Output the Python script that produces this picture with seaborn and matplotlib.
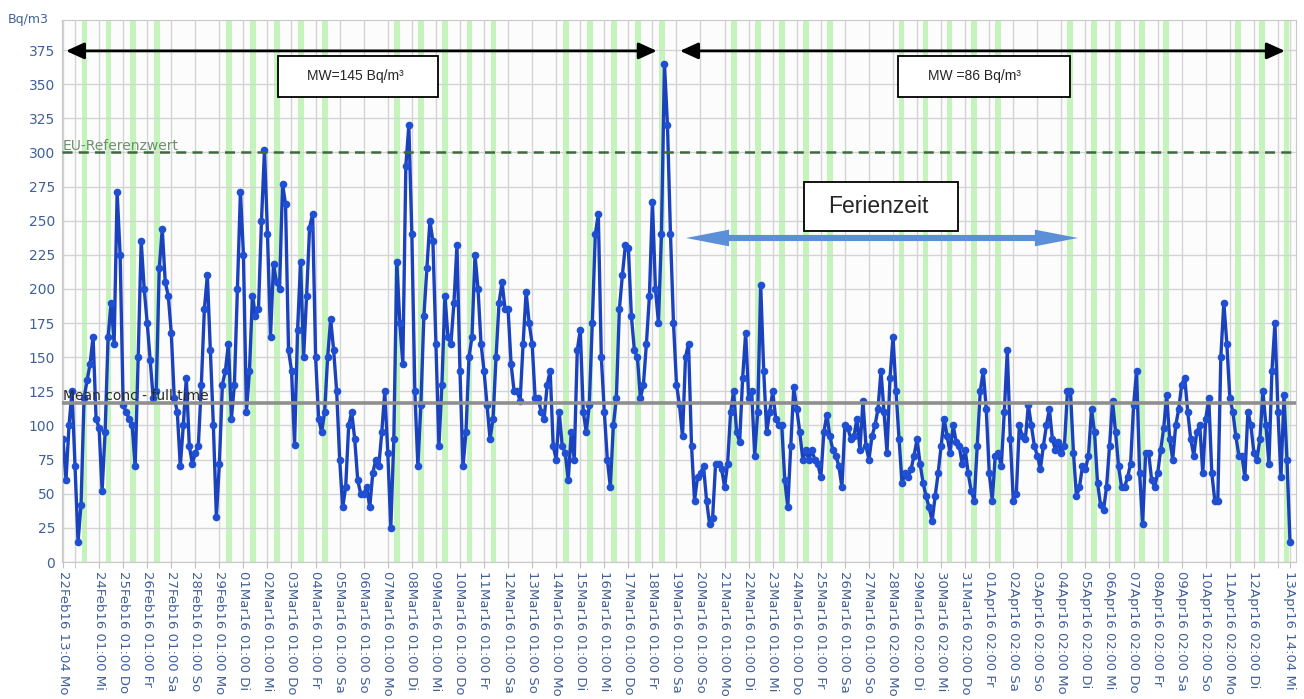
import pandas as pd
import matplotlib
matplotlib.use("Agg")
import matplotlib.pyplot as plt
import seaborn as sns
from matplotlib.patches import Rectangle, FancyArrowPatch

# Messreihe Radon (Bq/m3), alle 3 Stunden ab 22.02.2016 13:04
start = pd.Timestamp("2016-02-22 13:04")
radon = [
    90, 60, 100, 125,                      # 22 Feb
    70, 15, 42, 120, 133, 145, 165, 105,   # 23 Feb
    98, 52, 95, 165, 190, 160, 271, 225,
    115, 110, 105, 100, 70, 150, 235, 200,
    175, 148, 120, 125, 215, 244, 205, 195,
    168, 120, 110, 70, 100, 135, 85, 72,
    80, 85, 130, 185, 210, 155, 100, 33,
    72, 130, 140, 160, 105, 130, 200, 271,  # 29 Feb
    225, 110, 140, 195, 180, 185, 250, 302,  # 01 Mar
    240, 165, 218, 205, 200, 277, 262, 155,
    140, 86, 170, 220, 150, 195, 245, 255,
    150, 105, 95, 110, 150, 178, 155, 125,
    75, 40, 55, 100, 110, 90, 60, 50,
    50, 55, 40, 65, 75, 70, 95, 125,
    80, 25, 90, 220, 175, 145, 290, 320,    # 07 Mar
    240, 125, 70, 115, 180, 215, 250, 235,
    160, 85, 130, 195, 165, 160, 190, 232,
    140, 70, 95, 150, 165, 225, 200, 160,
    140, 115, 90, 105, 150, 190, 205, 185,
    185, 145, 125, 125, 118, 160, 198, 175,
    160, 120, 120, 110, 105, 130, 140, 85,
    75, 110, 85, 80, 60, 95, 75, 155,        # 14 Mar
    170, 110, 95, 115, 175, 240, 255, 150,
    110, 75, 55, 100, 120, 185, 210, 232,
    230, 180, 155, 150, 120, 130, 160, 195,
    264, 200, 175, 240, 365, 320, 240, 175,  # 18 Mar
    130, 115, 92, 150, 160, 85, 45, 62,
    65, 70, 45, 28, 32, 72, 72, 68,
    55, 72, 110, 125, 95, 88, 135, 168,      # 21 Mar
    120, 125, 78, 110, 203, 140, 95, 110,
    125, 105, 100, 100, 60, 40, 85, 128,
    112, 95, 75, 82, 75, 82, 75, 72,
    62, 95, 108, 92, 82, 78, 70, 55,
    100, 98, 90, 92, 105, 82, 118, 85,
    75, 92, 100, 112, 140, 110, 80, 135,     # 27 Mar
    165, 125, 90, 58, 65, 62, 68, 78,
    90, 72, 58, 48, 40, 30, 48, 65,
    85, 105, 92, 80, 100, 88, 85, 72,
    82, 65, 52, 45, 85, 125, 140, 112,
    65, 45, 78, 80, 70, 110, 155, 90,        # 01 Apr
    45, 50, 100, 92, 90, 115, 100, 85,
    78, 68, 85, 100, 112, 90, 82, 88,
    80, 85, 125, 125, 80, 48, 55, 70,
    68, 78, 112, 95, 58, 42, 38, 55,
    85, 118, 95, 70, 55, 55, 62, 72,
    115, 140, 65, 28, 80, 80, 60, 55,
    65, 82, 98, 122, 90, 75, 100, 112,
    130, 135, 110, 90, 78, 95, 100, 65,
    105, 120, 65, 45, 45, 150, 190, 160,     # 10 Apr
    120, 110, 92, 78, 78, 62, 110, 100,
    80, 75, 90, 125, 100, 72, 140, 175,
    110, 62, 122, 75, 15,                    # 13 Apr
]

eu_ref = 300
mean_full = 116.5
mw_labels = ["MW=145 Bq/m³", "MW =86 Bq/m³"]

tick_labels = [
    "22Feb16 13:04 Mo",
    "24Feb16 01:00 Mi", "25Feb16 01:00 Do", "26Feb16 01:00 Fr", "27Feb16 01:00 Sa",
    "28Feb16 01:00 So", "29Feb16 01:00 Mo",
    "01Mar16 01:00 Di", "02Mar16 01:00 Mi", "03Mar16 01:00 Do", "04Mar16 01:00 Fr",
    "05Mar16 01:00 Sa", "06Mar16 01:00 So", "07Mar16 01:00 Mo", "08Mar16 01:00 Di",
    "09Mar16 01:00 Mi", "10Mar16 01:00 Do", "11Mar16 01:00 Fr", "12Mar16 01:00 Sa",
    "13Mar16 01:00 So", "14Mar16 01:00 Mo", "15Mar16 01:00 Di", "16Mar16 01:00 Mi",
    "17Mar16 01:00 Do", "18Mar16 01:00 Fr", "19Mar16 01:00 Sa", "20Mar16 01:00 So",
    "21Mar16 01:00 Mo", "22Mar16 01:00 Di", "23Mar16 01:00 Mi", "24Mar16 01:00 Do",
    "25Mar16 01:00 Fr", "26Mar16 01:00 Sa", "27Mar16 01:00 So",
    "28Mar16 02:00 Mo", "29Mar16 02:00 Di", "30Mar16 02:00 Mi", "31Mar16 02:00 Do",
    "01Apr16 02:00 Fr", "02Apr16 02:00 Sa", "03Apr16 02:00 So", "04Apr16 02:00 Mo",
    "05Apr16 02:00 Di", "06Apr16 02:00 Mi", "07Apr16 02:00 Do", "08Apr16 02:00 Fr",
    "09Apr16 02:00 Sa", "10Apr16 02:00 So", "11Apr16 02:00 Mo", "12Apr16 02:00 Di",
    "13Apr16 14:04 Mi",
]

times = pd.date_range(start, periods=len(radon), freq="3h")
df = pd.DataFrame({"Zeit": times, "Radon": radon})

tick_times = ([start] + list(pd.date_range("2016-02-24 01:00", periods=49, freq="D"))
              + [start + pd.Timedelta(days=51)])
grid_days = pd.date_range("2016-02-23 01:00", "2016-04-13 01:00", freq="D")

sns.set_style("white")
plt.rcParams["font.family"] = ["DejaVu Sans"]

fig = plt.figure(figsize=(13.04, 6.99), dpi=100)
ax = fig.add_axes([62 / 1304, 1 - 562 / 699, 1234 / 1304, 542 / 699])
ax.set_facecolor("#fcfcfc")

# Unterrichtszeit (Mo-Fr) als gruene Streifen
for d in pd.date_range("2016-02-23", "2016-04-13", freq="D"):
    if d.weekday() < 5:
        dst = pd.Timedelta(hours=1) if d >= pd.Timestamp("2016-03-28") else pd.Timedelta(0)
        ax.axvspan(d + pd.Timedelta(hours=7.6) - dst, d + pd.Timedelta(hours=13.4) - dst,
                   color="#c4f4bc", lw=0, zorder=0)

sns.lineplot(data=df, x="Zeit", y="Radon", ax=ax, color="#1b42bd", lw=2.4,
             marker="o", markersize=5.5, markerfacecolor="#1f50d4",
             markeredgecolor="#1f50d4", markeredgewidth=0, zorder=2)

ax.axhline(eu_ref, color="#3d6b3d", lw=1.8, ls=(0, (4, 2.5)), zorder=3)
ax.axhline(mean_full, color="#8f8f8f", lw=2.6, zorder=3)
ax.text(start, eu_ref + 2, "EU-Referenzwert", color="#6f8f6f", fontsize=10,
        ha="left", va="baseline", zorder=4)
ax.text(start, mean_full + 2, "Mean conc - full time", color="#2a2a2a", fontsize=10,
        ha="left", va="baseline", zorder=4)

ax.set_xlim(start - pd.Timedelta(hours=1), start + pd.Timedelta(hours=1230))
ax.set_ylim(0, 397)
ax.set_yticks(range(0, 376, 25))
ax.set_xticks(tick_times)
ax.set_xticklabels(tick_labels, rotation=270, fontsize=9.5, color="#40609a")
ax.set_xticks(grid_days, minor=True)
ax.grid(True, which="both", axis="x", color="#d4d4d4", lw=1)
ax.grid(True, which="major", axis="y", color="#d4d4d4", lw=1)
ax.set_axisbelow(True)
ax.tick_params(axis="x", which="both", length=4.3, color="#c0c0c0", pad=2, bottom=True)
ax.tick_params(axis="y", length=0, labelsize=10, labelcolor="#40609a", pad=5)
ax.set_xlabel("")
ax.set_ylabel("")
for s in ax.spines.values():
    s.set_color("#c8c8c8")

fig.text(28.5 / 1304, 1 - 20 / 699, "Bq/m3", ha="center", va="center",
         fontsize=9, color="#40609a")

# Zeitraeume mit Mittelwerten
arrow_kw = dict(arrowstyle="<|-|>,head_length=0.55,head_width=0.25", mutation_scale=20,
                color="black", lw=2, shrinkA=0, shrinkB=0)
ax.annotate("", xy=(0.0032, 0.943), xytext=(0.482, 0.943), xycoords="axes fraction",
            arrowprops=arrow_kw, zorder=6)
ax.annotate("", xy=(0.5008, 0.943), xytext=(0.991, 0.943), xycoords="axes fraction",
            arrowprops=arrow_kw, zorder=6)

for x0, w, tx, label in [(0.1750, 0.1297, 0.2374, mw_labels[0]),
                         (0.6775, 0.1394, 0.7391, mw_labels[1])]:
    ax.add_patch(Rectangle((x0, 0.858), w, 0.0756, transform=ax.transAxes,
                           facecolor="white", edgecolor="black", lw=1.3, zorder=6))
    ax.text(tx, 0.8958, label, transform=ax.transAxes, ha="center", va="center",
            fontsize=10, family="Liberation Sans", zorder=7)

# Ferienzeit
ax.add_patch(Rectangle((0.6013, 0.6107), 0.1248, 0.0904, transform=ax.transAxes,
                       facecolor="white", edgecolor="black", lw=1.3, zorder=6))
ax.text(0.6613, 0.656, "Ferienzeit", transform=ax.transAxes, ha="center", va="center",
        fontsize=16.5, family="Liberation Sans", zorder=7)
mid = (0.5057 + 0.8233) / 2
for end in (0.5057, 0.8233):
    ax.add_patch(FancyArrowPatch((mid, 0.5978), (end, 0.5978), transform=ax.transAxes,
                                 arrowstyle="simple,head_length=1.55,head_width=0.6,tail_width=0.22",
                                 mutation_scale=20, color="#5b8fd8", lw=0,
                                 shrinkA=0, shrinkB=0, zorder=6))

fig.savefig("out.png", dpi=100)
